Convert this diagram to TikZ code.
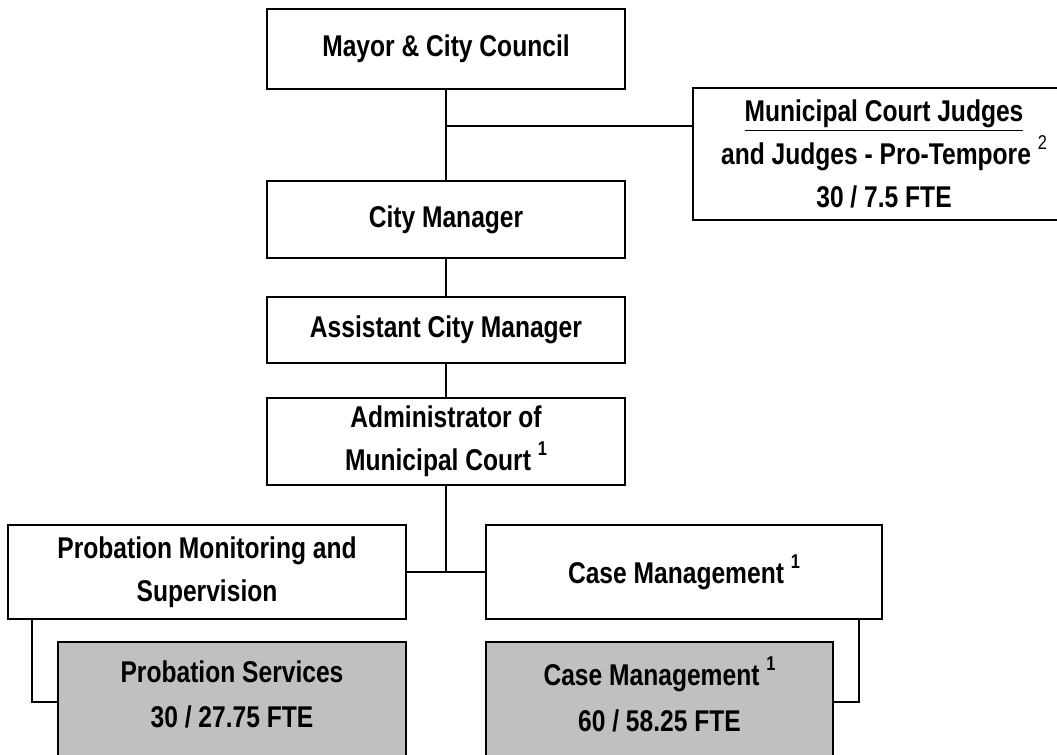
\documentclass[tikz,border=0pt]{standalone}
\usepackage{fontspec}
\setmainfont{Liberation Sans}[FakeStretch=0.82]
\newcommand{\supnum}[1]{\ \raisebox{0.5em}{\fontsize{15}{15}\selectfont #1}}

\tikzset{every picture/.style={line width=1.5pt}}
\tikzset{
  orgbox/.style={draw, fill=white, inner sep=0.75pt, align=center,
    font=\bfseries\fontsize{22.5}{32}\selectfont},
  unitbox/.style={orgbox, fill={rgb, 255:red, 192; green, 192; blue, 192},
    font=\bfseries\fontsize{22.5}{34}\selectfont,
    execute at end node={\rule[-12pt]{0pt}{0pt}}},
  link/.style={draw, line width=1.3pt}
}

\begin{document}
\begin{tikzpicture}[x=0.75pt,y=0.75pt,yscale=-1]
\useasboundingbox (0,0) rectangle (1057,754);
\clip (0,0) rectangle (1057,754);

%Council and manager chain
\node [orgbox, minimum width=358*0.75pt, minimum height=80*0.75pt] (mayor) at (446,49) {Mayor \& City Council};
\node [orgbox, minimum width=382*0.75pt, minimum height=132*0.75pt] (judges) at (884,154) {\underline{Municipal Court Judges}\\and Judges - Pro-Tempore\supnum{\mdseries 2}\\30 / 7.5 FTE};
\node [orgbox, minimum width=358*0.75pt, minimum height=77*0.75pt] (citymgr) at (446,219.5) {City Manager};
\node [orgbox, minimum width=358*0.75pt, minimum height=66*0.75pt] (asstmgr) at (446,330) {Assistant City Manager};
\node [orgbox, minimum width=358*0.75pt, minimum height=87*0.75pt] (admin) at (446,441.5) {Administrator of\\Municipal Court\supnum{1}};

%Divisions
\node [orgbox, minimum width=398*0.75pt, minimum height=94*0.75pt] (probmon) at (207,572) {Probation Monitoring and\\Supervision};
\node [orgbox, minimum width=396*0.75pt, minimum height=94*0.75pt] (casemgmt) at (684,572) {Case Management\supnum{1}};

%Units
\node [unitbox, minimum width=348*0.75pt, minimum height=120*0.75pt] (probsvc) at (232,702) {Probation Services\\30 / 27.75 FTE};
\node [unitbox, minimum width=347*0.75pt, minimum height=120*0.75pt] (casesvc) at (659.5,702) {Case Management\supnum{1}\\60 / 58.25 FTE};

% Connectors
\coordinate (branch) at (446,126);
\path [link] (mayor) -- (citymgr);
\path [link] (branch) -- (branch -| judges.west);
\path [link] (citymgr) -- (asstmgr);
\path [link] (asstmgr) -- (admin);
\path [link] (admin.south) -- (admin.south |- probmon.east);
\path [link] (probmon.east) -- (casemgmt.west);
\path [link] (probmon.south west) ++(25,0) |- (probsvc.west);
\path [link] (casemgmt.south east) ++(-24,0) |- (casesvc.east);

\end{tikzpicture}
\end{document}
